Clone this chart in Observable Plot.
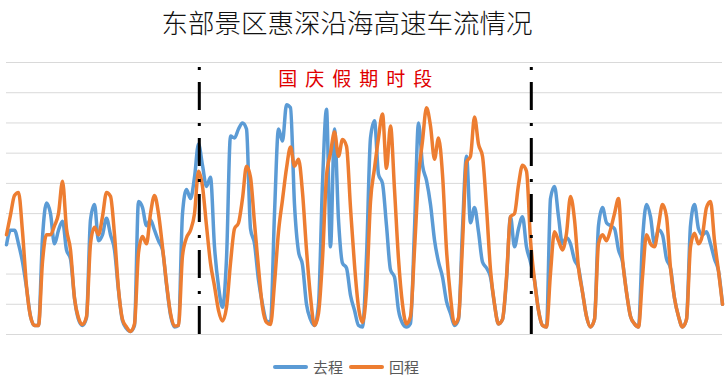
<!DOCTYPE html>
<html><head><meta charset="utf-8">
<script src="https://cdn.jsdelivr.net/npm/d3@7"></script>
<script src="https://cdn.jsdelivr.net/npm/@observablehq/plot@0.6"></script>
<style>
body{margin:0;background:#fff;font-family:"Noto Sans CJK SC","Noto Sans",sans-serif;}
#wrap{position:relative;width:728px;height:380px;overflow:hidden;}
#title{position:absolute;left:0;top:7px;width:694px;text-align:center;font-size:26.5px;line-height:30px;color:#111;font-weight:300;}
#legend{position:absolute;left:0;top:356px;width:692px;display:flex;justify-content:center;align-items:center;font-size:15px;color:#595959;}
#legend .item{display:flex;align-items:center;margin:0 3px;}
#legend .sw{width:35px;height:4px;border-radius:2px;margin-right:5px;}
#chart{position:absolute;left:0;top:0;}
</style>
</head><body>
<div id="wrap">
  <div id="chart"></div>
  <div id="title"></div>
  <div id="legend"></div>
</div>
<script>
// Chart title and labels
const chartTitle = "东部景区惠深沿海高速车流情况";
const holidayLabel = "国庆假期时段";
const seriesNames = ["去程", "回程"];
const seriesColors = ["#5B9BD5", "#ED7D31"];

// 去程 (outbound) — readings every 2 hours
const outbound = [
2.97,3.45,3.45,3.0,2.4,1.55,0.6,0.3,0.3,3.2,
4.35,4.0,3.0,3.45,3.75,2.8,2.5,1.2,0.5,0.3,
0.55,3.8,4.3,3.1,3.3,3.85,3.3,2.8,1.45,0.45,
0.2,0.1,0.3,4.4,4.2,3.6,3.8,3.45,3.1,2.8,
1.65,0.65,0.25,0.3,4.0,4.8,4.5,5.2,6.3,5.6,
4.9,5.2,2.9,1.6,0.9,2.5,6.57,6.5,6.8,7.0,
6.8,3.5,3.0,1.8,1.0,0.45,0.4,4.0,6.8,6.4,
7.6,7.5,4.3,2.75,2.3,1.0,0.5,0.3,1.0,5.0,
7.45,2.9,6.8,3.8,2.36,2.2,1.3,0.8,0.3,0.25,
2.58,6.5,7.07,5.3,5.0,3.6,2.14,1.9,0.8,0.37,
0.25,0.37,3.5,7.0,5.6,5.1,4.3,3.13,2.4,1.9,
1.1,0.7,0.3,0.5,3.5,5.9,3.7,4.2,3.4,2.4,
2.2,1.9,1.0,0.35,0.5,1.8,3.9,2.9,3.5,3.9,
2.9,2.4,1.8,0.8,0.3,0.25,4.5,4.9,3.9,3.0,
3.2,3.0,2.47,2.2,1.4,0.6,0.25,0.5,3.6,4.2,
3.7,3.6,3.5,2.8,2.4,1.4,0.6,0.35,0.25,3.1,
4.3,3.9,3.0,3.47,3.3,2.5,2.2,1.2,0.6,0.25,
0.5,3.6,4.3,3.5,3.3,3.4,3.0,2.5,2.1,1.0
];

// 回程 (return) — readings every 2 hours
const inbound = [
3.3,3.96,4.6,4.7,3.4,1.6,0.6,0.3,0.3,2.4,
3.3,3.3,3.6,4.0,5.07,3.5,2.8,1.2,0.55,0.33,
0.59,3.0,3.55,3.3,3.9,4.7,4.57,3.3,1.5,0.5,
0.25,0.1,0.35,2.7,3.24,3.0,4.0,4.6,4.0,2.9,
1.7,0.7,0.28,0.3,2.6,3.2,3.45,4.0,5.4,4.9,
3.6,2.36,1.6,0.8,0.45,0.9,2.36,3.5,3.69,4.5,
5.57,5.2,3.69,2.2,0.9,0.4,0.33,1.7,3.4,4.46,
5.5,6.2,5.57,5.8,4.7,2.8,1.25,0.3,0.7,2.5,
5.24,6.0,6.7,5.9,6.45,6.23,4.2,2.3,0.9,0.4,
1.47,4.4,5.5,6.5,7.3,5.5,6.9,4.8,2.5,1.0,
0.35,0.6,2.8,5.2,6.4,7.5,6.9,5.8,6.5,5.3,
2.8,1.25,0.35,0.55,3.0,5.7,5.9,7.2,6.3,5.9,
4.2,2.14,1.0,0.35,0.5,1.9,3.9,4.0,4.95,5.6,
5.4,3.13,1.8,0.8,0.3,0.25,2.03,3.4,3.1,2.8,
3.35,4.57,3.8,2.2,1.4,0.6,0.25,0.5,3.0,3.3,
3.1,3.47,4.0,4.5,2.5,1.4,0.6,0.35,0.25,1.9,
3.3,3.0,2.9,3.6,4.3,3.9,2.2,1.2,0.6,0.25,
0.5,2.9,3.35,3.0,3.3,4.2,4.4,3.1,2.1,1.0
];

// Holiday period boundaries (sample index) and value gridlines
const holidayBounds = [48.2, 131.2];
const gridValues = [0,1,2,3,4,5,6,7,8,9];

const rows = [];
outbound.forEach((v, i) => rows.push({i, v, s: seriesNames[0]}));
inbound.forEach((v, i) => rows.push({i, v, s: seriesNames[1]}));

const chart = Plot.plot({
  width: 728,
  height: 380,
  marginTop: 62,
  marginBottom: 46,
  marginLeft: 6,
  marginRight: 6,
  style: {fontFamily: '"Noto Sans CJK SC", sans-serif', background: "transparent"},
  x: {domain: [0, outbound.length - 1], axis: null},
  y: {domain: [0, 9], axis: null},
  color: {domain: seriesNames, range: seriesColors},
  marks: [
    Plot.ruleY(gridValues, {stroke: "#d9d9d9", strokeWidth: 1}),
    Plot.line(rows, {x: "i", y: "v", z: "s", stroke: "s", strokeWidth: 3.5, curve: "monotone-x", strokeLinejoin: "round", strokeLinecap: "round"}),
    Plot.ruleX(holidayBounds, {y1: 0, y2: 9, stroke: "#000", strokeWidth: 3, strokeDasharray: "28,12,3,13"}),
    Plot.text([holidayLabel], {x: () => (holidayBounds[0] + holidayBounds[1]) / 2, y: () => 8.44, text: d => d, fill: "#e00000", fontSize: 19, dx: -6})
  ]
});
document.getElementById("chart").appendChild(chart);
d3.select(chart).selectAll("text").filter(function(){ return this.textContent === holidayLabel; })
  .attr("letter-spacing", "8px");

document.getElementById("title").textContent = chartTitle;
const leg = d3.select("#legend");
seriesNames.forEach((n, k) => {
  const it = leg.append("div").attr("class", "item");
  it.append("div").attr("class", "sw").style("background", seriesColors[k]);
  it.append("span").text(n);
});
</script>
</body></html>
